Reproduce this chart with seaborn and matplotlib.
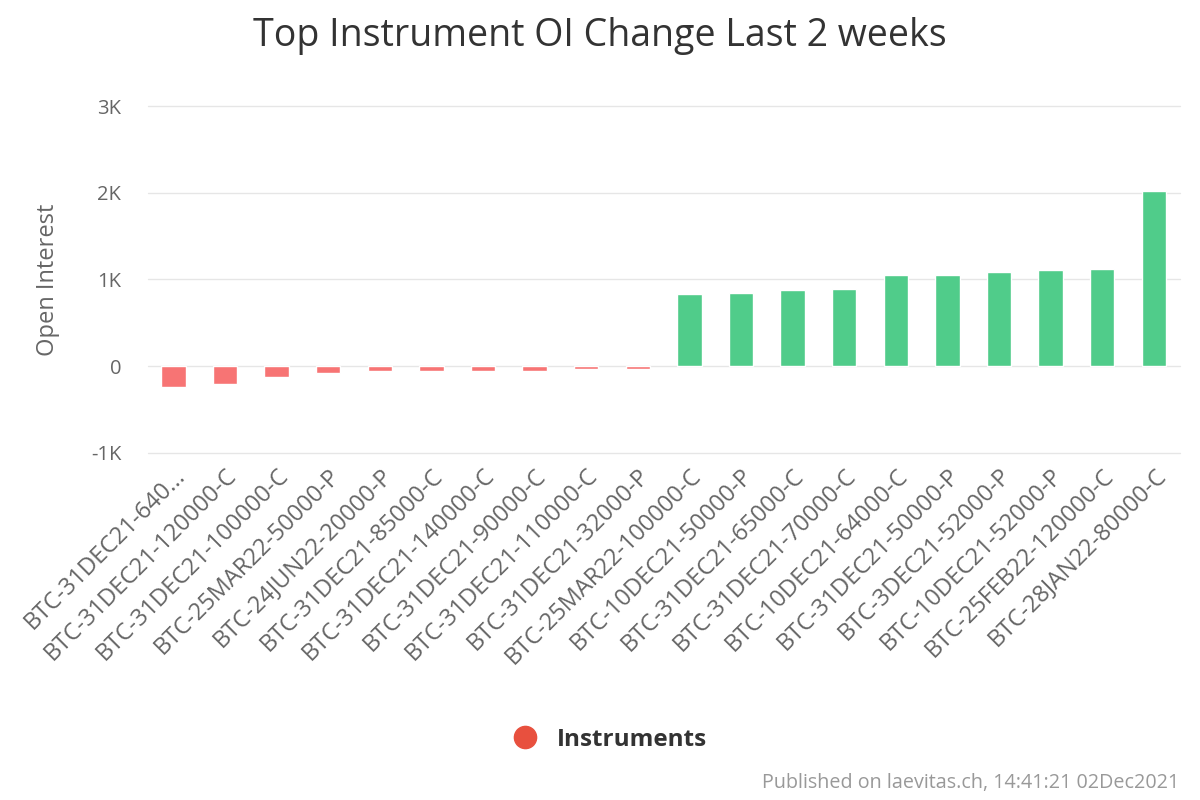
import pandas as pd
import seaborn as sns
import matplotlib.pyplot as plt
from matplotlib.lines import Line2D
from matplotlib.ticker import FuncFormatter

# Datos
instruments = [
    "BTC-31DEC21-640...", "BTC-31DEC21-120000-C", "BTC-31DEC21-100000-C",
    "BTC-25MAR22-50000-P", "BTC-24JUN22-20000-P", "BTC-31DEC21-85000-C",
    "BTC-31DEC21-140000-C", "BTC-31DEC21-90000-C", "BTC-31DEC21-110000-C",
    "BTC-31DEC21-32000-P", "BTC-25MAR22-100000-C", "BTC-10DEC21-50000-P",
    "BTC-31DEC21-65000-C", "BTC-31DEC21-70000-C", "BTC-10DEC21-64000-C",
    "BTC-31DEC21-50000-P", "BTC-3DEC21-52000-P", "BTC-10DEC21-52000-P",
    "BTC-25FEB22-120000-C", "BTC-28JAN22-80000-C",
]
oi_change = [-237, -207, -123, -75, -54, -54, -52, -52, -34, -32,
             830, 845, 875, 895, 1055, 1052, 1080, 1105, 1125, 2025]
yticks = [-1000, 0, 1000, 2000, 3000]

df = pd.DataFrame({"instrument": instruments, "oi": oi_change})
df["sign"] = ["neg" if v < 0 else "pos" for v in df["oi"]]

sns.set_style("white")
plt.rcParams["font.family"] = ["Open Sans", "DejaVu Sans"]

fig = plt.figure(figsize=(12, 8), dpi=100)
ax = fig.add_axes([0.123, 0.434, 0.86, 0.4335])

sns.barplot(data=df, x="instrument", y="oi", hue="sign",
            palette={"neg": "#f77474", "pos": "#50cc8a"}, saturation=1,
            dodge=False, width=0.47, legend=False, ax=ax)

ax.set_ylim(-1000, 3000)
ax.set_yticks(yticks)
ax.yaxis.set_major_formatter(FuncFormatter(
    lambda v, p: "0" if v == 0 else f"{int(v / 1000)}K"))
ax.grid(axis="y", color="#e6e6e6", linewidth=1)
for line in ax.get_ygridlines():
    line.set_clip_on(False)
ax.set_axisbelow(True)
for s in ax.spines.values():
    s.set_visible(False)
ax.set_xlim(-0.5, len(instruments) - 0.5)

ax.tick_params(axis="y", length=0, labelsize=14.5, labelcolor="#666666", pad=19)
ax.tick_params(axis="x", length=0, labelsize=17, labelcolor="#666666", pad=8)
plt.setp(ax.get_xticklabels(), rotation=45, ha="right", rotation_mode="anchor")

ax.set_xlabel("")
ax.set_ylabel("Open Interest", fontsize=17, color="#666666", labelpad=22)

fig.text(0.5, 0.955, "Top Instrument OI Change Last 2 weeks",
         ha="center", va="center", fontsize=27, color="#333333")

handle = Line2D([], [], marker="o", linestyle="", markersize=16,
                markerfacecolor="#e8503e", markeredgecolor="#e8503e")
fig.legend([handle], ["Instruments"], loc="center", bbox_to_anchor=(0.503, 0.075),
           frameon=False, prop={"size": 17.5, "weight": "bold"}, handletextpad=0.3,
           labelcolor="#333333")

fig.text(0.983, 0.021, "Published on laevitas.ch, 14:41:21 02Dec2021",
         ha="right", va="center", fontsize=14.2, color="#999999")

fig.savefig("out.png", dpi=100)
